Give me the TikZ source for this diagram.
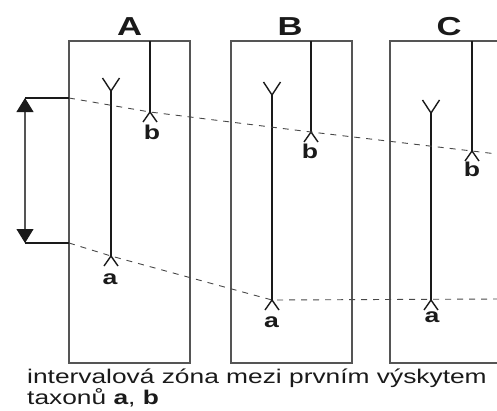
\documentclass[tikz,border=0pt]{standalone}
\usepackage{fontspec}
\setmainfont{Liberation Sans}[FakeStretch=1.33]
\usetikzlibrary{arrows.meta}
\definecolor{boxgray}{HTML}{555555}
\definecolor{ink}{HTML}{1A1A1A}
\begin{document}
\begin{tikzpicture}[x=1pt,y=-1pt,
  colbox/.style={draw=boxgray,line width=1.1pt},
  rangeline/.style={draw=ink,line width=1.1pt},
  dashline/.style={draw=ink!80,line width=0.9pt,dash pattern=on 6pt off 6pt},
  collabel/.style={font=\fontsize{26}{28}\selectfont\bfseries,text=ink,inner sep=0pt,anchor=base},
  taxlabel/.style={font=\fontsize{20}{22}\selectfont\bfseries,text=ink,inner sep=0pt,anchor=base},
  caption/.style={font=\fontsize{19.8}{21}\selectfont,text=ink,inner sep=0pt,anchor=base west},
  tipst/.style={line width=1.4pt,draw=ink}
]
\useasboundingbox (0,0) rectangle (497,410);
% columns
\draw[colbox] (69,41) rectangle (190,363);
\draw[colbox] (231,41) rectangle (352,363);
\draw[colbox] (390,41) rectangle (511,363);
\node[collabel] (lA) at (129.5,35) {A};
\node[collabel] (lB) at (290,35) {B};
\node[collabel] (lC) at (449,35) {C};
% taxon a ranges
\coordinate (aAtop) at (111,91);  \coordinate (aAbot) at (111,256);
\coordinate (aBtop) at (272,95);  \coordinate (aBbot) at (272,300);
\coordinate (aCtop) at (431,113); \coordinate (aCbot) at (431,300);
% taxon b ranges
\coordinate (bAtop) at (150,41);  \coordinate (bAbot) at (150,112);
\coordinate (bBtop) at (311,41);  \coordinate (bBbot) at (311,132);
\coordinate (bCtop) at (472,41);  \coordinate (bCbot) at (472,151);
\foreach \c in {aA,aB,aC,bA,bB,bC}{
  \draw[rangeline] (\c top) -- (\c bot);
}
% V tops for taxon a (arms pointing up)
\foreach \c in {aA,aB,aC}{
  \draw[tipst] ([xshift=-8.5pt,yshift=13pt]\c top) -- (\c top) -- ([xshift=8.5pt,yshift=13pt]\c top);
}
% carets at first occurrences (arms pointing down)
\foreach \c in {aA,aB,aC,bA,bB,bC}{
  \draw[tipst] ([xshift=-7pt,yshift=-10pt]\c bot) -- (\c bot) -- ([xshift=7pt,yshift=-10pt]\c bot);
}
\node[taxlabel] (tbA) at (152,139) {b};
\node[taxlabel] (tbB) at (310,158) {b};
\node[taxlabel] (tbC) at (472,176) {b};
\node[taxlabel] (taA) at (110,284) {a};
\node[taxlabel] (taB) at (271.5,327) {a};
\node[taxlabel] (taC) at (432,322) {a};
% correlation dashed lines
\coordinate (uL) at (69,98);
\coordinate (uR) at (497,154);
\coordinate (lL) at (69,243);
\coordinate (lR) at (497,299);
\draw[dashline] (uL) -- (bAbot) -- (bBbot) -- (bCbot) -- (uR);
\draw[dashline] (lL) -- (aAbot) -- (aBbot) -- (lR);
% interval arrow
\coordinate (arT) at (25,98);
\coordinate (arB) at (25,243);
\draw[draw=ink,line width=1.1pt] (arT) -- (uL);
\draw[draw=ink,line width=1.1pt] (arB) -- (lL);
\draw[draw=boxgray,line width=1.1pt,
  {Triangle[length=14pt,width=17pt,fill=ink,color=ink]}-{Triangle[length=14pt,width=17pt,fill=ink,color=ink]}] (arT) -- (arB);
% caption
\node[caption] (cap1) at (27,383) {intervalová zóna mezi prvním výskytem};
\node[caption] (cap2) at (27,404) {taxonů \textbf{a}, \textbf{b}};
\end{tikzpicture}
\end{document}
